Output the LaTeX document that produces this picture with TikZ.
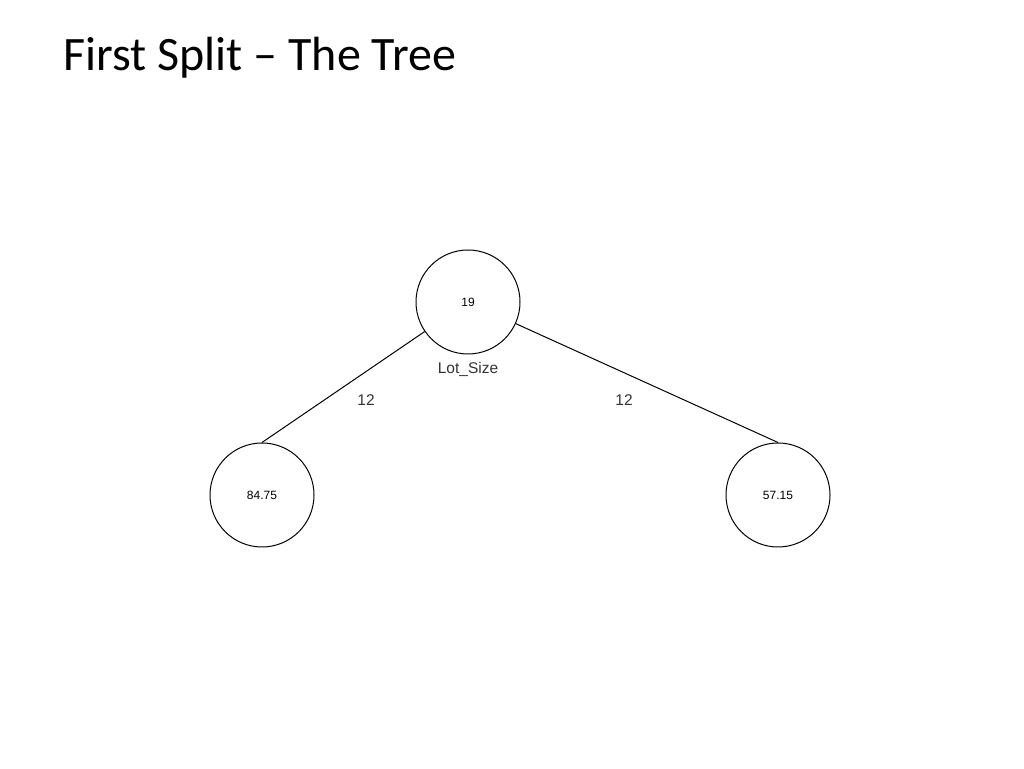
\documentclass[tikz,border=0pt]{standalone}
\usepackage{fontspec}
\setmainfont{Liberation Sans}
\newfontfamily\titlefont{Carlito}
\usetikzlibrary{positioning}

\begin{document}
\begin{tikzpicture}[x=1pt,y=1pt]
        \tikzstyle{treenode}=[draw, circle, line width=1pt, minimum size=104pt, inner sep=0pt, font=\fontsize{12}{14}\selectfont]
        \tikzstyle{edgelabel}=[font=\fontsize{15.5}{18}\selectfont, text=black!80]
        \useasboundingbox (0,0) rectangle (1024,768);

        \node[anchor=base west, font=\titlefont\fontsize{48}{56}\selectfont] (title) at (60,697) {First Split \textendash{} The Tree};

        \node[treenode] (root)  at (468,466) {19};
        \node[treenode] (left)  at (262,273) {84.75};
        \node[treenode] (right) at (778,273) {57.15};

        \node[edgelabel] (split) at (468,399) {Lot\_Size};

        \draw[line width=1pt] (root) -- (left.north);
        \draw[line width=1pt] (root) -- (right.north);
        \node[edgelabel] (lleft)  at (366,368) {12};
        \node[edgelabel] (lright) at (624,368) {12};
    \end{tikzpicture}
\end{document}
